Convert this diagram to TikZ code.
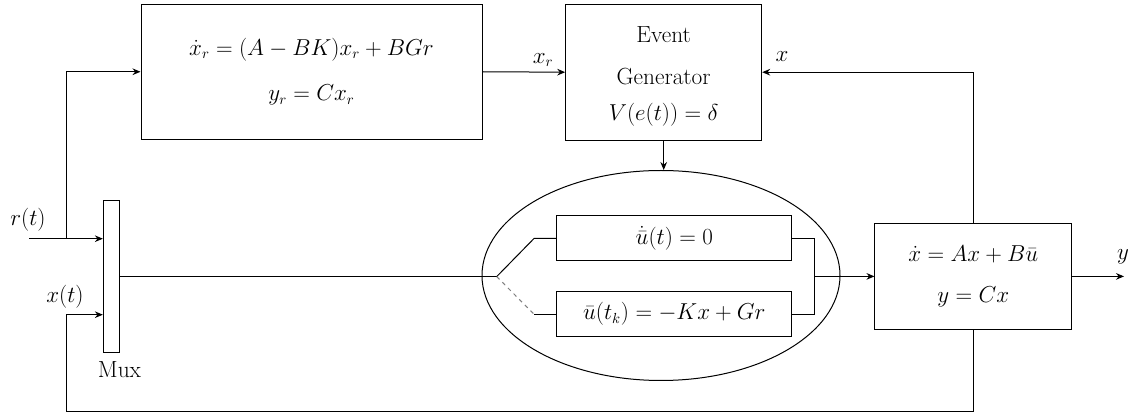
\documentclass[tikz,border=0pt]{standalone}
\usepackage{fontspec}
\usetikzlibrary{shapes.geometric,arrows.meta}
\begin{document}
\begin{tikzpicture}[x=0.75pt,y=-0.75pt,
  line width=0.75pt,
  every node/.style={font=\fontsize{16}{20}\selectfont},
  bigtext/.style={font=\fontsize{17.5}{21}\selectfont},
  blk/.style={draw,rectangle,inner sep=0pt,align=center},
  arr/.style={-{Stealth[length=6pt,width=5pt,inset=2pt]}},
  lbl/.style={inner sep=0pt}]
\useasboundingbox (0,0) rectangle (1140,420);

% blocks
\node[blk,minimum width=255.75pt,minimum height=101.6pt] (refsys) at (311.5,71.75)
  {$\dot{x}_r=(A-BK)x_r+BGr$\\[14pt]$y_r=Cx_r$};
\node[blk,minimum width=147pt,minimum height=101.8pt] (evgen) at (663.7,72.2) {};
\node[bigtext,align=center,inner sep=0pt] (evtext) at (663.7,76.5)
  {Event\\[10pt]Generator\\[6pt]$V(e(t))=\delta$};
\node[blk,minimum width=11.8pt,minimum height=113.5pt] (mux) at (111.2,276.6) {};
\node[draw,ellipse,inner sep=0pt,minimum width=268.5pt,minimum height=157.5pt] (sw) at (661,275.5) {};
\node[blk,minimum width=176pt,minimum height=33.75pt] (box1) at (674.3,238.5) {$\dot{\bar{u}}(t)=0$};
\node[blk,minimum width=176pt,minimum height=33.75pt] (box2) at (674.3,314.2) {$\bar{u}(t_k)=-Kx+Gr$};
\node[blk,minimum width=147.5pt,minimum height=79.3pt] (plant) at (973.3,276.4)
  {$\dot{x}=Ax+B\bar{u}$\\[11pt]$y=Cx$};

% coordinates
\coordinate (rin) at (29,238.7);
\coordinate (rbr) at (66.7,238.7);
\coordinate (xin) at (66.7,314.7);
\coordinate (fbL) at (66.7,411.7);
\coordinate (pivot) at (496.7,276.6);
\coordinate (s1) at (534,238.5);
\coordinate (s2) at (534,314.2);
\coordinate (j1) at (814,238.5);
\coordinate (j2) at (814,314.2);
\coordinate (jm) at (814,276.4);
\coordinate (yout) at (1124,276.4);

% labels
\node[lbl] (rl) at (28,220) {$r(t)$};
\node[lbl] (xl) at (65,297) {$x(t)$};
\node[lbl,bigtext] (muxl) at (119.5,370) {Mux};
\node[lbl] (xrl) at (543,60) {$x_r$};
\node[lbl] (xfl) at (782,57) {$x$};
\node[lbl] (yl) at (1123,257) {$y$};

% connectors
\draw[arr] (rin) -- (rin -| mux.west);
\draw[arr] (rbr) |- (refsys.west);
\draw[arr] (refsys.east) -- (evgen.west);
\draw[arr] (plant.north) |- (evgen.east);
\draw[arr] (plant.south) |- (fbL) -- (xin) -- (xin -| mux.west);
\draw (mux.east |- pivot) -- (pivot);
\draw (pivot) -- (s1) -- (box1.west);
\draw[dashed,gray] (pivot) -- (s2);
\draw (s2) -- (box2.west);
\draw (box1.east) -- (j1) -- (j2) -- (box2.east);
\draw[arr] (jm) -- (plant.west);
\draw[arr] (evgen.south) -- (evgen.south |- sw.north);
\draw[arr] (plant.east) -- (yout);
\end{tikzpicture}
\end{document}
